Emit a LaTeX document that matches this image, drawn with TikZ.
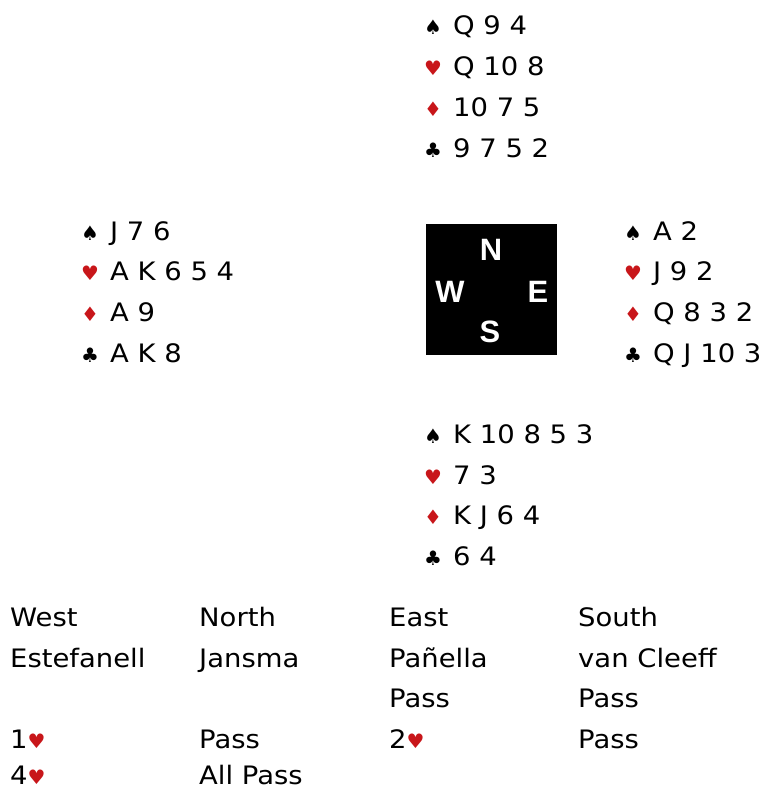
\documentclass[tikz,border=0pt]{standalone}
\usepackage{fontspec}
\setmainfont[FakeStretch=1.08]{DejaVu Sans}
\newfontfamily\symfont{DejaVu Sans}
\newfontfamily\boldsans{Liberation Sans}
\definecolor{suitred}{RGB}{200,22,26}
\newcommand{\Sp}{{\symfont\fontsize{20}{20}\selectfont ♠}}
\newcommand{\Hr}{{\symfont\fontsize{20}{20}\selectfont\textcolor{suitred}{♥}}}
\newcommand{\Di}{{\symfont\fontsize{20}{20}\selectfont\textcolor{suitred}{♦}}}
\newcommand{\Cl}{{\symfont\fontsize{20}{20}\selectfont ♣}}
\begin{document}
\begin{tikzpicture}[x=1bp,y=-1bp,
  txt/.style={inner sep=0pt,anchor=base west,font=\fontsize{25.5}{30}\selectfont},
  sym/.style={inner sep=0pt,anchor=base west},
  compass/.style={inner sep=0pt,text=white,font=\boldsans\bfseries\fontsize{31}{31}\selectfont}]
\useasboundingbox (0,0) rectangle (777,791);
% North
\node[sym] (ns) at (424,35) {\Sp}; \node[txt] (n1) at (453,35) {Q 9 4};
\node[sym] (nh) at (424,76) {\Hr}; \node[txt] (n2) at (453,76) {Q 10 8};
\node[sym] (nd) at (424,116) {\Di}; \node[txt] (n3) at (453,116) {10 7 5};
\node[sym] (nc) at (424,157) {\Cl}; \node[txt] (n4) at (453,157) {9 7 5 2};
% West
\node[sym] (ws) at (81,240) {\Sp}; \node[txt] (w1) at (110,240) {J 7 6};
\node[sym] (wh) at (81,280) {\Hr}; \node[txt] (w2) at (110,280) {A K 6 5 4};
\node[sym] (wd) at (81,321) {\Di}; \node[txt] (w3) at (110,321) {A 9};
\node[sym] (wc) at (81,362) {\Cl}; \node[txt] (w4) at (110,362) {A K 8};
% East
\node[sym] (es) at (624,240) {\Sp}; \node[txt] (e1) at (653,240) {A 2};
\node[sym] (eh) at (624,280) {\Hr}; \node[txt] (e2) at (653,280) {J 9 2};
\node[sym] (ed) at (624,321) {\Di}; \node[txt] (e3) at (653,321) {Q 8 3 2};
\node[sym] (ec) at (624,362) {\Cl}; \node[txt] (e4) at (653,362) {Q J 10 3};
% South
\node[sym] (ss) at (424,443) {\Sp}; \node[txt] (s1) at (453,443) {K 10 8 5 3};
\node[sym] (sh) at (424,484) {\Hr}; \node[txt] (s2) at (453,484) {7 3};
\node[sym] (sd) at (424,524) {\Di}; \node[txt] (s3) at (453,524) {K J 6 4};
\node[sym] (sc) at (424,565) {\Cl}; \node[txt] (s4) at (453,565) {6 4};
% compass
\fill[black] (426,224) rectangle (557,355);
\node[compass] (cn) at (491,250) {N};
\node[compass] (cw) at (450,292) {W};
\node[compass] (ce) at (538,292) {E};
\node[compass] (cs) at (490,332) {S};
% auction
\node[txt] (a11) at (10,626) {West};
\node[txt] (a12) at (199,626) {North};
\node[txt] (a13) at (389,626) {East};
\node[txt] (a14) at (578,626) {South};
\node[txt] (a21) at (10,667) {Estefanell};
\node[txt] (a22) at (199,667) {Jansma};
\node[txt] (a23) at (389,667) {Pañella};
\node[txt] (a24) at (578,667) {van Cleeff};
\node[txt] (a33) at (389,707) {Pass};
\node[txt] (a34) at (578,707) {Pass};
\node[txt] (a41) at (10,748) {1\Hr};
\node[txt] (a42) at (199,748) {Pass};
\node[txt] (a43) at (389,748) {2\Hr};
\node[txt] (a44) at (578,748) {Pass};
\node[txt] (a51) at (10,784) {4\Hr};
\node[txt] (a52) at (199,784) {All Pass};
\end{tikzpicture}
\end{document}
